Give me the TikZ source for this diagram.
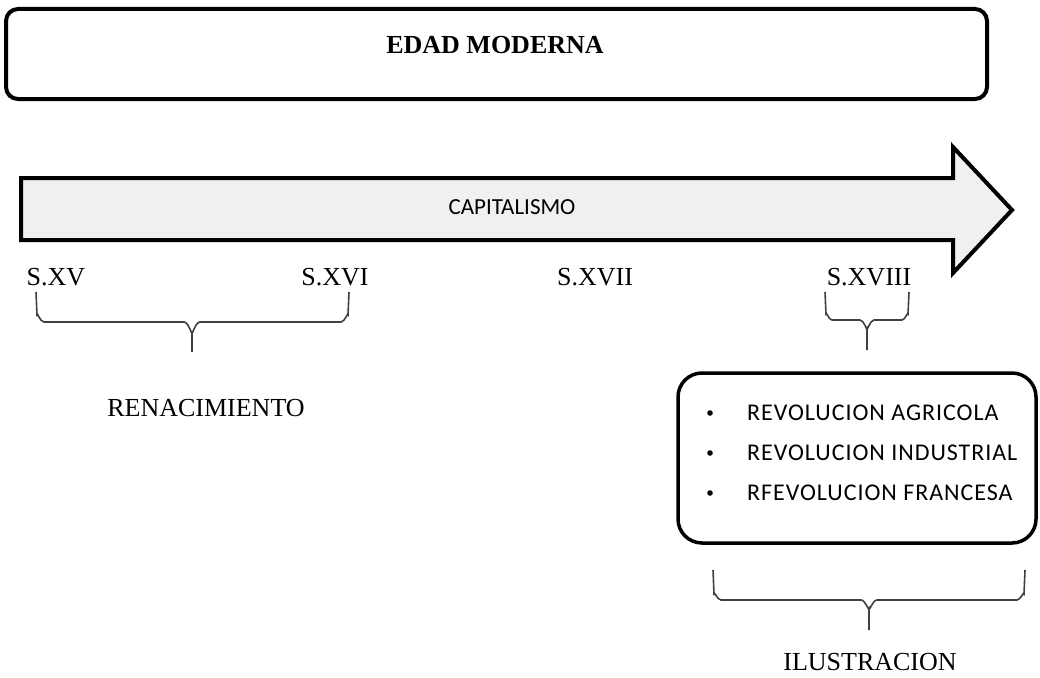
\documentclass[tikz,border=0pt]{standalone}
\usepackage{fontspec}
\setmainfont{Liberation Serif}
\newfontfamily\calib{Carlito}
\newfontfamily\calibsp[LetterSpace=4]{Carlito}
\begin{document}
\begin{tikzpicture}[x=1pt,y=-1pt,
  serlbl/.style={font=\fontsize{26}{28}\selectfont, text=black, inner sep=0pt},
  itemlbl/.style={font=\calibsp\fontsize{24}{26}\selectfont, anchor=west, inner sep=0pt},
  bracepath/.style={draw=black!75, line width=1.6pt},
  bigbox/.style={draw=black, line width=4pt, rounded corners=12pt}]
\useasboundingbox (0,0) rectangle (1040,677);
% top box
\draw[bigbox] (6,9) rectangle (987,99);
\node[font=\bfseries\fontsize{26}{28}\selectfont, inner sep=0pt] (edad) at (495,45) {EDAD MODERNA};
% arrow
\draw[line width=4pt, fill=black!6, line join=miter] (21,178) -- (953,178) -- (953,147) -- (1012,210) -- (953,273) -- (953,240) -- (21,240) -- cycle;
\node[font=\calib\fontsize{23}{25}\selectfont, inner sep=0pt] (cap) at (512,207) {CAPITALISMO};
% century labels
\node[serlbl] (s15) at (56,277) {S.XV};
\node[serlbl] (s16) at (335,277) {S.XVI};
\node[serlbl] (s17) at (595,277) {S.XVII};
\node[serlbl] (s18) at (869,277) {S.XVIII};
% brace 1
\draw[bracepath] (36,292) -- (37,315) to[out=90,in=180] (44,322) -- (184,322) to[out=0,in=-90] (192,332) -- (192,352);
\draw[bracepath] (192,332) to[out=-90,in=180] (200,322) -- (341,322) to[out=0,in=90] (348,315) -- (349,292);
\node[serlbl] (ren) at (206,408) {RENACIMIENTO};
% brace 2
\draw[bracepath] (825,292) -- (826,314) to[out=90,in=180] (832,320) -- (860,320) to[out=0,in=-90] (867,328) -- (867,350);
\draw[bracepath] (867,328) to[out=-90,in=180] (874,320) -- (902,320) to[out=0,in=90] (908,314) -- (909,292);
% list box
\draw[line width=3.5pt, rounded corners=24pt] (678,373) rectangle (1036,543);
\foreach \yy in {413,453,493} {\fill (710,\yy) circle (2.8pt);}
\node[itemlbl] (i1) at (747,413) {REVOLUCION AGRICOLA};
\node[itemlbl] (i2) at (747,453) {REVOLUCION INDUSTRIAL};
\node[itemlbl] (i3) at (747,493) {RFEVOLUCION FRANCESA};
% brace 3
\draw[bracepath] (713,570) -- (714,594) to[out=90,in=180] (721,600) -- (861,600) to[out=0,in=-90] (869,608) -- (869,630);
\draw[bracepath] (869,608) to[out=-90,in=180] (877,600) -- (1017,600) to[out=0,in=90] (1024,594) -- (1025,570);
\node[serlbl] (ilu) at (870,662) {ILUSTRACION};
\end{tikzpicture}
\end{document}
